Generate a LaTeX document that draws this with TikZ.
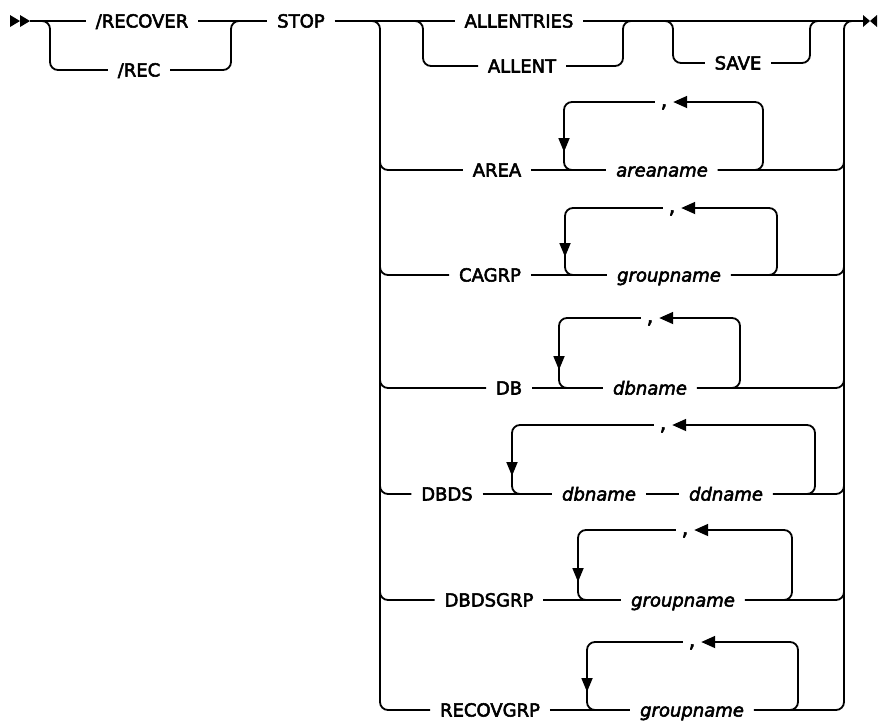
\documentclass[tikz,border=0pt]{standalone}
\usepackage{fontspec}
\setmainfont{DejaVu Sans}[FakeBold=3]
\usetikzlibrary{arrows.meta}

\begin{document}
\begin{tikzpicture}[x=1pt,y=-1pt,line width=1.8pt,line join=round,
  kw/.style={inner xsep=9pt,inner ysep=0pt,text height=13pt,text depth=0pt,font=\fontsize{18}{20}\selectfont},
  var/.style={kw,font=\fontsize{18}{20}\selectfont\itshape},
  commabox/.style={inner xsep=5pt,inner ysep=0pt,text height=0pt,text depth=0pt,font=\fontsize{21}{22}\selectfont},
  rr/.style={rounded corners=8pt},
  backarr/.style={rr,-{Triangle[length=14pt,width=12pt]}},
  downarr/.style={rr,-{Triangle[length=14pt,width=11pt]}}]
  \useasboundingbox (0,0) rectangle (881,721);

  % start and end marks
  \fill (10,15)--(20,21)--(10,27)--cycle (20,15)--(30,21)--(20,27)--cycle;
  \fill (863,15)--(870,21)--(863,27)--cycle (877,15)--(870,21)--(877,27)--cycle;
  \coordinate (S) at (30,21);
  \coordinate (E) at (863,21);

  % top line
  \node[kw] (recover) at (142,21) {/RECOVER};
  \node[kw] (rec) at (139,70) {/REC};
  \node[kw] (stop) at (301,21) {STOP};
  \node[kw] (allentries) at (519,21) {ALLENTRIES};
  \node[kw] (allent) at (522,66) {ALLENT};
  \node[kw] (save) at (738,63) {SAVE};

  \draw (S) -- (recover);
  \draw (recover) -- (stop);
  \draw[rr] (40,21) -- (50,21) -- (50,70) -- (rec.west);
  \draw[rr] (rec.east) -- (231,70) -- (231,21) -- (241,21);
  \draw (stop) -- (allentries);
  \draw (allentries) -- (E);
  \draw[rr] (413,21) -- (423,21) -- (423,66) -- (allent.west);
  \draw[rr] (allent.east) -- (623,66) -- (623,21) -- (633,21);
  \draw[rr] (663,21) -- (673,21) -- (673,63) -- (save.west);
  \draw[rr] (save.east) -- (810,63) -- (810,21) -- (820,21);

  % AREA
  \node[kw] (area) at (497,170) {AREA};
  \node[var] (areaname) at (662,170) {areaname};
  \node[commabox] (cmA) at (664,102) {\raisebox{-5pt}{,}};
  \draw[rr] (380,160) -- (380,170) -- (area.west);
  \draw (area.east) -- (areaname.west);
  \draw[rr] (areaname.east) -- (844,170) -- (844,160);
  \draw[downarr] (cmA.west) -- (564,102) -- (564,152);
  \draw[rr] (564,150) -- (564,170) -- (576,170);
  \draw[backarr] (750,170) -- (763,170) -- (763,102) -- (cmA.east);

  % CAGRP
  \node[kw] (cagrp) at (490,275) {CAGRP};
  \node[var] (grpA) at (669,275) {groupname};
  \node[commabox] (cmB) at (672,208) {\raisebox{-5pt}{,}};
  \draw[rr] (380,265) -- (380,275) -- (cagrp.west);
  \draw (cagrp.east) -- (grpA.west);
  \draw[rr] (grpA.east) -- (844,275) -- (844,265);
  \draw[downarr] (cmB.west) -- (565,208) -- (565,257);
  \draw[rr] (565,255) -- (565,275) -- (577,275);
  \draw[backarr] (764,275) -- (777,275) -- (777,208) -- (cmB.east);

  % DB
  \node[kw] (db) at (509,388) {DB};
  \node[var] (dbnameA) at (650,388) {dbname};
  \node[commabox] (cmC) at (650,318) {\raisebox{-5pt}{,}};
  \draw[rr] (380,378) -- (380,388) -- (db.west);
  \draw (db.east) -- (dbnameA.west);
  \draw[rr] (dbnameA.east) -- (844,388) -- (844,378);
  \draw[downarr] (cmC.west) -- (559,318) -- (559,370);
  \draw[rr] (559,368) -- (559,388) -- (571,388);
  \draw[backarr] (727,388) -- (740,388) -- (740,318) -- (cmC.east);

  % DBDS
  \node[kw] (dbds) at (447,494) {DBDS};
  \node[var] (dbnameB) at (599,494) {dbname};
  \node[var] (ddname) at (726,494) {ddname};
  \node[commabox] (cmD) at (663,425) {\raisebox{-5pt}{,}};
  \draw[rr] (380,484) -- (380,494) -- (dbds.west);
  \draw (dbds.east) -- (dbnameB.west);
  \draw (dbnameB.east) -- (ddname.west);
  \draw[rr] (ddname.east) -- (844,494) -- (844,484);
  \draw[downarr] (cmD.west) -- (512,425) -- (512,476);
  \draw[rr] (512,474) -- (512,494) -- (524,494);
  \draw[backarr] (802,494) -- (815,494) -- (815,425) -- (cmD.east);

  % DBDSGRP
  \node[kw] (dbdsgrp) at (489,600) {DBDSGRP};
  \node[var] (grpB) at (683,600) {groupname};
  \node[commabox] (cmE) at (685,530) {\raisebox{-5pt}{,}};
  \draw[rr] (380,590) -- (380,600) -- (dbdsgrp.west);
  \draw (dbdsgrp.east) -- (grpB.west);
  \draw[rr] (grpB.east) -- (844,600) -- (844,590);
  \draw[downarr] (cmE.west) -- (578,530) -- (578,582);
  \draw[rr] (578,580) -- (578,600) -- (590,600);
  \draw[backarr] (779,600) -- (792,600) -- (792,530) -- (cmE.east);

  % RECOVGRP
  \node[kw] (recovgrp) at (490,710) {RECOVGRP};
  \node[var] (grpC) at (692,710) {groupname};
  \node[commabox] (cmF) at (692,642) {\raisebox{-5pt}{,}};
  \draw[rr] (370,21) -- (380,21) -- (380,710) -- (recovgrp.west);
  \draw (recovgrp.east) -- (grpC.west);
  \draw[rr] (grpC.east) -- (844,710) -- (844,21) -- (854,21);
  \draw[downarr] (cmF.west) -- (587,642) -- (587,692);
  \draw[rr] (587,690) -- (587,710) -- (599,710);
  \draw[backarr] (785,710) -- (798,710) -- (798,642) -- (cmF.east);
\end{tikzpicture}
\end{document}
